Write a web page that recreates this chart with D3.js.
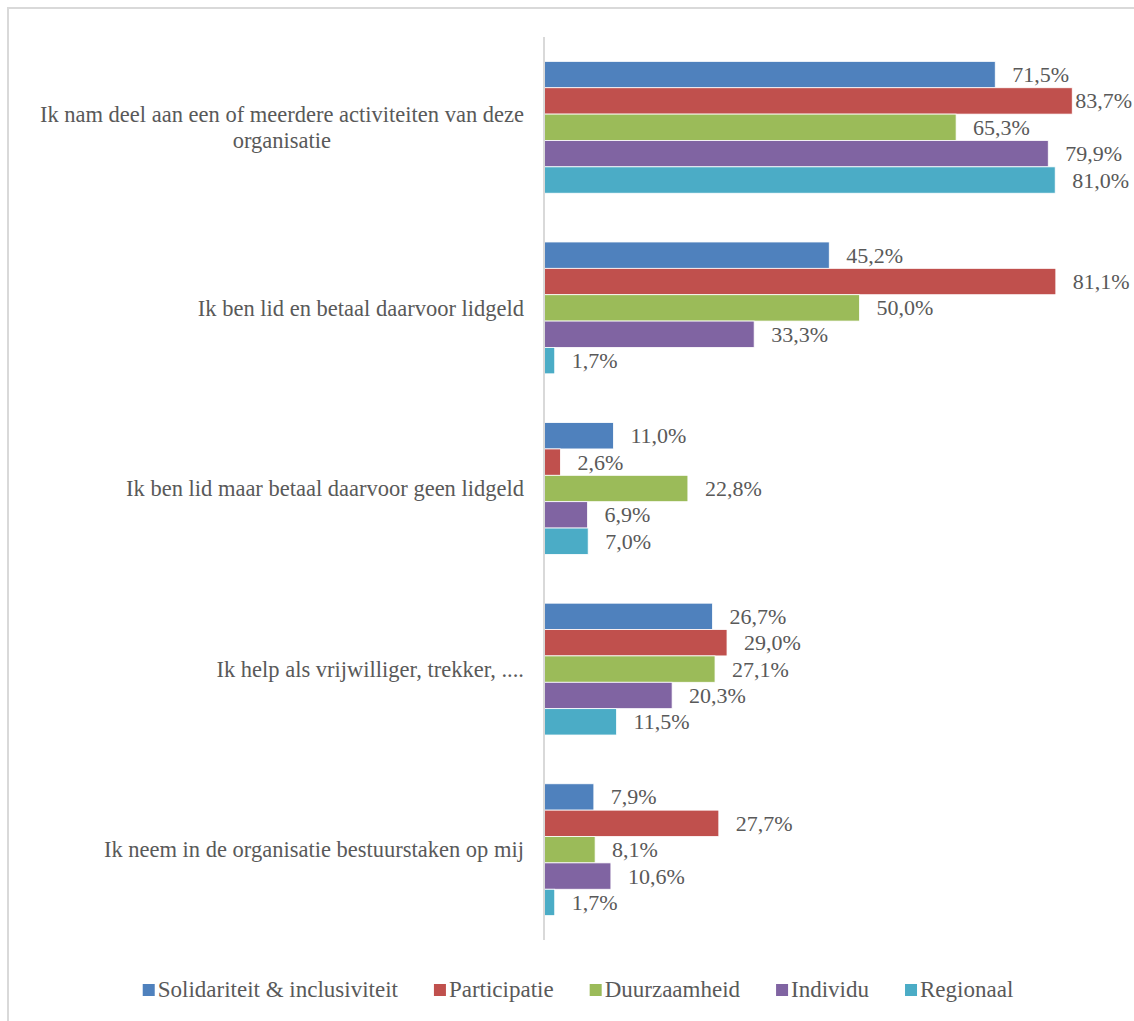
<!DOCTYPE html>
<html>
<head>
<meta charset="utf-8">
<script src="https://cdn.jsdelivr.net/npm/d3@7"></script>
</head>
<body style="margin:0">
<script>
// Categories (y axis), top to bottom
const categories = [
  "Ik nam deel aan een of meerdere activiteiten van deze organisatie",
  "Ik ben lid en betaal daarvoor lidgeld",
  "Ik ben lid maar betaal daarvoor geen lidgeld",
  "Ik help als vrijwilliger, trekker, ....",
  "Ik neem in de organisatie bestuurstaken op mij"
];
const seriesNames = ["Solidariteit & inclusiviteit", "Participatie", "Duurzaamheid", "Individu", "Regionaal"];
const seriesColors = ["#4F81BD", "#C0504D", "#9BBB59", "#8064A2", "#4BACC6"];

// Percentages per series, in category order
const solidariteit = [71.5, 45.2, 11.0, 26.7, 7.9];
const participatie = [83.7, 81.1, 2.6, 29.0, 27.7];
const duurzaamheid = [65.3, 50.0, 22.8, 27.1, 8.1];
const individu     = [79.9, 33.3, 6.9, 20.3, 10.6];
const regionaal    = [81.0, 1.7, 7.0, 11.5, 1.7];
const seriesValues = [solidariteit, participatie, duurzaamheid, individu, regionaal];

const FONT = '"Liberation Serif"';
const TEXT = "#595959";
const W = 1134, H = 1021;

// serif face applied with high priority on every text element
const serif = sel => sel.style("font-family", FONT, "important");

const svg = d3.select("body").append("svg").attr("width", W).attr("height", H)
  .style("display", "block");
serif(svg);

// chart frame
svg.append("path")
  .attr("d", `M8,${H + 5} L8,8 L${W + 5},8`)
  .attr("fill", "none").attr("stroke", "#d9d9d9").attr("stroke-width", 2);

const x = d3.scaleLinear().domain([0, 90]).range([544, 1112]);
const y = d3.scaleBand().domain(categories).range([37, 940]).paddingInner(0.27).paddingOuter(0.135);
const ys = d3.scaleBand().domain(seriesNames).range([0, y.bandwidth()]);

const fmt = v => d3.format(".1f")(v).replace(".", ",") + "%";

// bars
const groups = svg.selectAll("g.cat").data(categories).join("g")
  .attr("class", "cat")
  .attr("transform", d => `translate(0,${y(d)})`);

seriesNames.forEach((s, si) => {
  groups.append("rect")
    .attr("x", x(0))
    .attr("y", ys(s))
    .attr("width", (d, ci) => x(seriesValues[si][ci]) - x(0))
    .attr("height", ys.bandwidth())
    .attr("fill", seriesColors[si])
    .attr("stroke", "#ffffff").attr("stroke-width", 0.8);
});

// value labels
const labelSize = 22;
seriesNames.forEach((s, si) => {
  groups.append("text")
    .call(serif)
    .attr("y", ys(s) + ys.bandwidth() / 2)
    .attr("dy", "0.34em")
    .attr("font-size", labelSize)
    .attr("fill", TEXT)
    .text((d, ci) => fmt(seriesValues[si][ci]))
    .each(function(d, ci) {
      const w = this.getComputedTextLength();
      const px = Math.min(x(seriesValues[si][ci]) + 17, W - 2 - w);
      d3.select(this).attr("x", px);
    });
});

// axis line
svg.append("line")
  .attr("x1", x(0)).attr("x2", x(0))
  .attr("y1", 37).attr("y2", 940)
  .attr("stroke", "#d9d9d9").attr("stroke-width", 2);

// category labels, wrapped to the available width, centered block, right aligned
const catSize = 22.5;
const maxW = 505;
categories.forEach(c => {
  const t = svg.append("text").call(serif)
    .attr("font-size", catSize).attr("fill", TEXT);
  const words = c.split(" ");
  const lines = [];
  let cur = [];
  words.forEach(wd => {
    cur.push(wd);
    t.text(cur.join(" "));
    if (t.node().getComputedTextLength() > maxW && cur.length > 1) {
      cur.pop();
      lines.push(cur.join(" "));
      cur = [wd];
    }
  });
  lines.push(cur.join(" "));
  t.text(null);
  const widths = lines.map(l => { t.text(l); return t.node().getComputedTextLength(); });
  t.text(null);
  const blockW = d3.max(widths);
  const cx = 524 - blockW / 2;
  const lh = 26;
  const cy = y(c) + y.bandwidth() / 2;
  lines.forEach((l, i) => {
    t.append("tspan")
      .attr("x", cx)
      .attr("y", cy + (i - (lines.length - 1) / 2) * lh)
      .attr("dy", "0.34em")
      .attr("text-anchor", "middle")
      .text(l);
  });
});

// legend
const legend = svg.append("g");
const items = [];
seriesNames.forEach((s, i) => {
  const g = legend.append("g");
  g.append("rect").attr("x", 0).attr("y", -13).attr("width", 12).attr("height", 12).attr("fill", seriesColors[i]);
  const tx = g.append("text").call(serif).attr("x", 15).attr("y", 0)
    .attr("font-size", 23).attr("fill", TEXT).text(s);
  const w = 15 + tx.node().getComputedTextLength();
  items.push({ g, w });
});
const gap = 36;
const total = d3.sum(items, d => d.w) + gap * (items.length - 1);
let lx = 578 - total / 2;
items.forEach(it => {
  it.g.attr("transform", `translate(${lx},997)`);
  lx += it.w + gap;
});
</script>
</body>
</html>
